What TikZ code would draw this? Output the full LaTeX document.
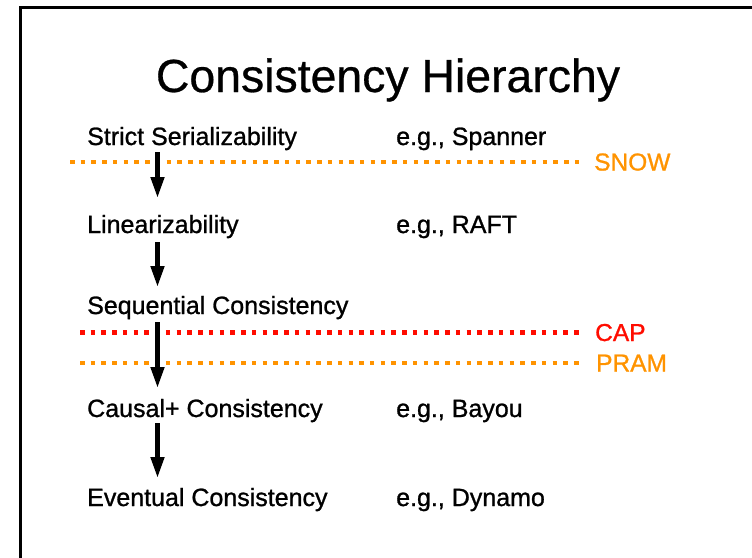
\documentclass[tikz,border=0pt]{standalone}
\usepackage{fontspec}
\setmainfont{Liberation Sans}
\newfontfamily\bodyfont[FakeBold=1]{Liberation Sans}
\newfontfamily\headfont[FakeBold=0.6]{Liberation Sans}
\usetikzlibrary{arrows.meta,calc}
\definecolor{keyorange}{RGB}{255,147,0}
\definecolor{keyred}{RGB}{255,12,0}
\begin{document}
\begin{tikzpicture}[x=1pt,y=-1pt,
  txt/.style={font=\bodyfont\fontsize{25}{30}\selectfont, inner sep=0pt, anchor=base west},
  lbl/.style={font=\bodyfont\fontsize{24.5}{30}\selectfont, inner sep=0pt, anchor=base west},
  sepline/.style={line width=4.5pt, dash pattern=on 4.5pt off 6.24pt},
  arr/.style={line width=4.5pt, -{Triangle[length=21pt,width=13pt]}}]
  \useasboundingbox (0,0) rectangle (752,557);
  \clip (0,0) rectangle (752,557);
  % slide frame (only left and top edges fall inside the page)
  \draw[line width=3pt] (20.5,600) -- (20.5,7.5) -- (800,7.5);

  % title
  \node[font=\headfont\fontsize{46.4}{50}\selectfont, inner sep=0pt, anchor=base] (title) at (388,92) {Consistency Hierarchy};

  % consistency levels
  \node[txt] (strict)   at (87,145) {Strict Serializability};
  \node[txt] (lin)      at (87,233) {Linearizability};
  \node[txt] (seq)      at (87,314) {Sequential Consistency};
  \node[txt] (causal)   at (87,417) {Causal+ Consistency};
  \node[txt] (eventual) at (87,506) {Eventual Consistency};

  % example systems
  \node[txt] (egspanner) at (396,145) {e.g., Spanner};
  \node[txt] (egraft)    at (396,233) {e.g., RAFT};
  \node[txt] (egbayou)   at (396,417) {e.g., Bayou};
  \node[txt] (egdynamo)  at (396,506) {e.g., Dynamo};

  % impossibility boundaries
  \coordinate (snowL) at (70,162);  \coordinate (snowR) at (579,162);
  \coordinate (capL)  at (80,332.5); \coordinate (capR)  at (579,332.5);
  \coordinate (pramL) at (80,363);  \coordinate (pramR) at (579,363);
  \draw[sepline, keyorange] (snowL) -- (snowR);
  \draw[sepline, keyred]    (capL)  -- (capR);
  \draw[sepline, keyorange] (pramL) -- (pramR);
  \node[lbl, text=keyorange] (snow) at (594,170.5) {SNOW};
  \node[lbl, text=keyred]    (cap)  at (595,341) {CAP};
  \node[lbl, text=keyorange] (pram) at (596,371.5) {PRAM};

  % implication arrows
  \coordinate (ax) at (157.5,0);
  \draw[arr] ($(strict.base -| ax)+(0,7)$) -- ($(lin.base -| ax)+(0,-35)$);
  \draw[arr] ($(lin.base -| ax)+(0,9)$)    -- ($(seq.base -| ax)+(0,-27)$);
  \draw[arr] ($(seq.base -| ax)+(0,8)$)    -- ($(causal.base -| ax)+(0,-29)$);
  \draw[arr] ($(causal.base -| ax)+(0,6)$) -- ($(eventual.base -| ax)+(0,-28)$);
\end{tikzpicture}
\end{document}
